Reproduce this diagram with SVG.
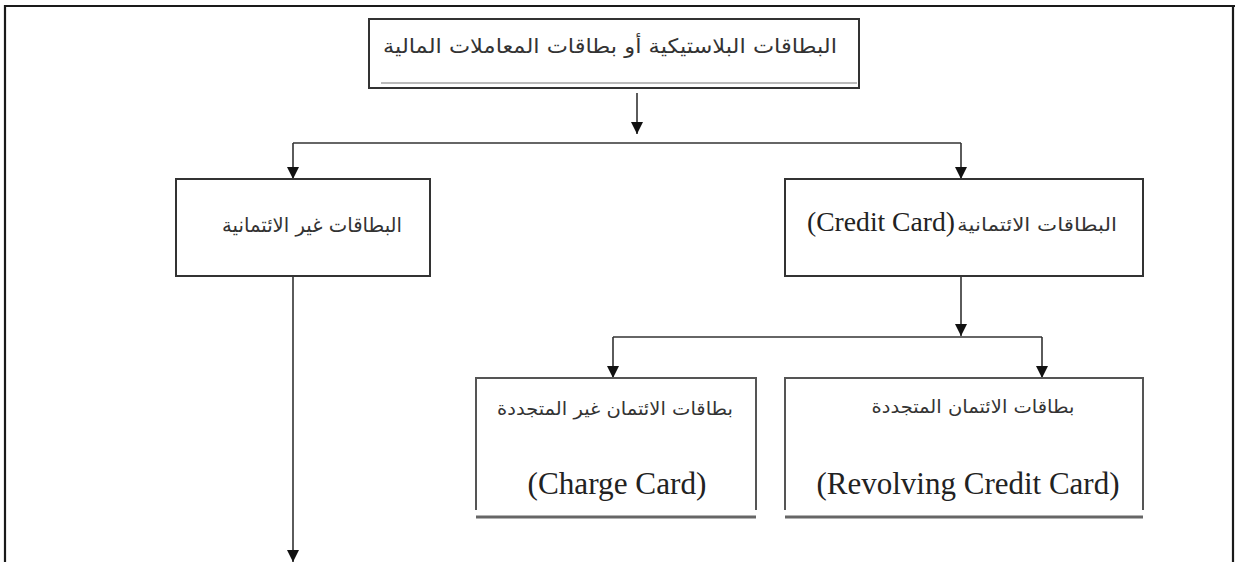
<svg xmlns="http://www.w3.org/2000/svg" width="1235" height="562" viewBox="0 0 1235 562">
<defs>
<style>
.frame{fill:none;stroke:#1a1a1a;stroke-width:2.2}
.box{fill:#fff;stroke:#333;stroke-width:2}
.side{fill:none;stroke:#555;stroke-width:2}
.base{fill:none;stroke:#666;stroke-width:3}
.conn{fill:none;stroke:#333;stroke-width:1.6}
.ar{font-family:"DejaVu Sans",sans-serif;fill:#333;text-anchor:middle}
.en{font-family:"Liberation Serif",serif;fill:#222;text-anchor:middle}
</style>
<marker id="arr" markerUnits="userSpaceOnUse" markerWidth="12" markerHeight="12" refX="12" refY="6" orient="auto" viewBox="0 0 12 12">
<path d="M0,0 L12,6 L0,12 z" fill="#111"/>
</marker>
</defs>
<path class="frame" d="M5,562 V6 H1235"/>
<line class="frame" x1="1233" y1="6" x2="1233" y2="562"/>
<g id="connectors">
<line class="conn" x1="637" y1="93" x2="637" y2="134" marker-end="url(#arr)"/>
<line class="conn" x1="293" y1="143" x2="961" y2="143"/>
<line class="conn" x1="293" y1="143" x2="293" y2="179" marker-end="url(#arr)"/>
<line class="conn" x1="961" y1="143" x2="961" y2="179" marker-end="url(#arr)"/>
<line class="conn" x1="961" y1="276" x2="961" y2="336" marker-end="url(#arr)"/>
<line class="conn" x1="613" y1="337" x2="1042" y2="337"/>
<line class="conn" x1="613" y1="337" x2="613" y2="378" marker-end="url(#arr)"/>
<line class="conn" x1="1042" y1="337" x2="1042" y2="378" marker-end="url(#arr)"/>
<line class="conn" x1="293" y1="276" x2="293" y2="562" marker-end="url(#arr)"/>
</g>
<g id="node-root">
<rect class="box" x="369" y="19" width="490" height="69"/>
<line x1="381" y1="83" x2="857" y2="83" stroke="#bbb" stroke-width="2"/>
<text class="ar" x="610" y="53" font-size="20" textLength="454" lengthAdjust="spacingAndGlyphs">البطاقات البلاستيكية أو بطاقات المعاملات المالية</text>
</g>
<g id="node-noncredit">
<rect class="box" x="176" y="179" width="254" height="97"/>
<text class="ar" x="312" y="232" font-size="20" textLength="180" lengthAdjust="spacingAndGlyphs">البطاقات غير الائتمانية</text>
</g>
<g id="node-credit">
<rect class="box" x="785" y="179" width="358" height="97"/>
<text class="en" x="881" y="231" font-size="27" textLength="148" lengthAdjust="spacingAndGlyphs">(Credit Card)</text>
<text class="ar" x="1037" y="231" font-size="18" textLength="160" lengthAdjust="spacingAndGlyphs">البطاقات الائتمانية</text>
</g>
<g id="node-charge">
<path class="side" d="M476,510 V378 H756 V510"/>
<line class="base" x1="476" y1="517" x2="756" y2="517"/>
<text class="ar" x="615" y="415" font-size="18" textLength="236" lengthAdjust="spacingAndGlyphs">بطاقات الائتمان غير المتجددة</text>
<text class="en" x="617" y="494" font-size="31" textLength="179" lengthAdjust="spacingAndGlyphs">(Charge Card)</text>
</g>
<g id="node-revolving">
<path class="side" d="M785,510 V378 H1143 V510"/>
<line class="base" x1="785" y1="517" x2="1143" y2="517"/>
<text class="ar" x="973" y="413" font-size="18" textLength="203" lengthAdjust="spacingAndGlyphs">بطاقات الائتمان المتجددة</text>
<text class="en" x="968" y="494" font-size="32" textLength="303" lengthAdjust="spacingAndGlyphs">(Revolving Credit Card)</text>
</g>
</svg>
